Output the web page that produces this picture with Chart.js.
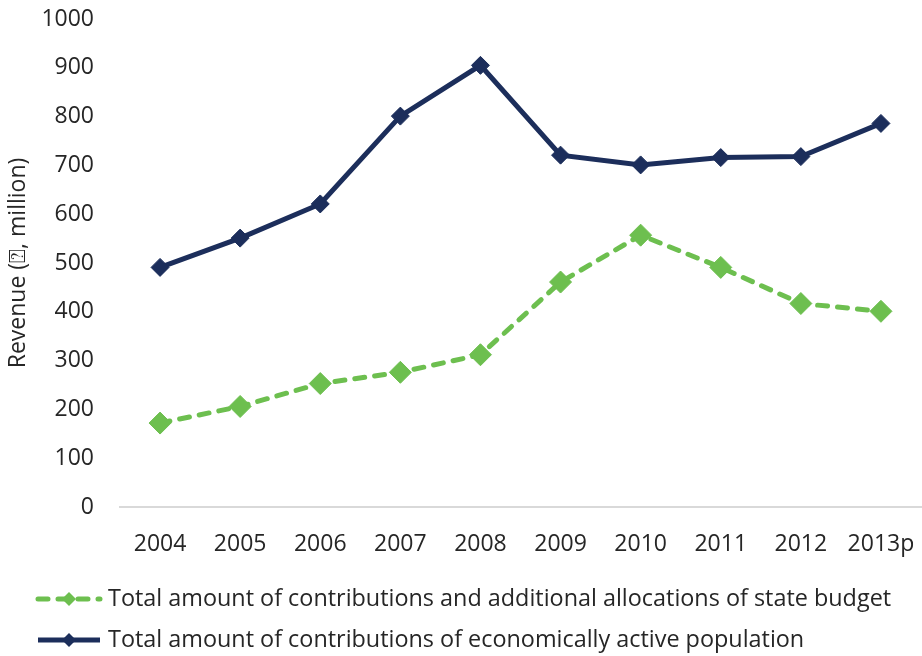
<!DOCTYPE html>
<html>
<head>
<meta charset="utf-8">
<script src="https://cdn.jsdelivr.net/npm/chart.js@4/dist/chart.umd.min.js"></script>
<style>
  html, body { margin: 0; padding: 0; background: #fff; }
  #wrap { width: 922px; height: 656px; }
</style>
</head>
<body>
<div id="wrap"><canvas id="myChart" width="922" height="656"></canvas></div>
<script>
const years = ['2004', '2005', '2006', '2007', '2008', '2009', '2010', '2011', '2012', '2013p'];
const stateBudget = [172, 206, 253, 276, 312, 461, 557, 491, 417, 401];
const activePop = [491, 551, 621, 801, 905, 721, 701, 716, 718, 786];
const yTicks = [0, 100, 200, 300, 400, 500, 600, 700, 800, 900, 1000];

const FONT = "'Open Sans', 'DejaVu Sans', sans-serif";
const TEXT_COLOR = '#262626';
const GREEN = '#6dbf4f';
const NAVY = '#1c2e5b';

// legend drawn by hand: line sample with diamond, text to the right
const bottomLegend = {
  id: 'bottomLegend',
  afterDraw(chart) {
    const ctx = chart.ctx;
    const top = chart.chartArea.bottom + 92;
    ctx.save();
    chart.data.datasets.forEach(function(ds, i) {
      const y = top + i * 41;
      const x0 = 36, x1 = 102, cx = 69;
      ctx.strokeStyle = ds.borderColor;
      ctx.lineWidth = ds.borderWidth;
      ctx.lineCap = ds.borderCapStyle || 'butt';
      ctx.setLineDash(ds.borderDash || []);
      ctx.beginPath();
      ctx.moveTo(x0 + 2, y);
      ctx.lineTo(x1 - 2, y);
      ctx.stroke();
      ctx.setLineDash([]);
      ctx.fillStyle = ds.pointBackgroundColor;
      ctx.beginPath();
      ctx.moveTo(cx, y - 7);
      ctx.lineTo(cx + 7, y);
      ctx.lineTo(cx, y + 7);
      ctx.lineTo(cx - 7, y);
      ctx.closePath();
      ctx.fill();
      ctx.fillStyle = TEXT_COLOR;
      ctx.font = '23.4px ' + FONT;
      ctx.textAlign = 'left';
      ctx.textBaseline = 'middle';
      ctx.fillText(ds.label, 108, y);
    });
    ctx.restore();
  }
};

const ctx = document.getElementById('myChart');
const chart = new Chart(ctx, {
  type: 'line',
  data: {
    labels: years,
    datasets: [
      {
        label: 'Total amount of contributions and additional allocations of state budget',
        data: stateBudget,
        borderColor: GREEN,
        backgroundColor: GREEN,
        pointBackgroundColor: GREEN,
        pointBorderColor: GREEN,
        borderWidth: 5,
        borderDash: [10, 10],
        borderCapStyle: 'round',
        pointStyle: 'rectRot',
        pointRadius: 11,
        pointBorderWidth: 1,
        tension: 0
      },
      {
        label: 'Total amount of contributions of economically active population',
        data: activePop,
        borderColor: NAVY,
        backgroundColor: NAVY,
        pointBackgroundColor: NAVY,
        pointBorderColor: NAVY,
        borderWidth: 5,
        pointStyle: 'rectRot',
        pointRadius: 9,
        pointBorderWidth: 1,
        tension: 0
      }
    ]
  },
  options: {
    responsive: false,
    maintainAspectRatio: false,
    animation: false,
    events: [],
    layout: {
      autoPadding: false,
      padding: { left: 0, right: 1, top: 19, bottom: 89 }
    },
    plugins: {
      legend: { display: false },
      tooltip: { enabled: false }
    },
    scales: {
      x: {
        offset: true,
        grid: { display: false, drawTicks: false },
        border: { display: true, color: '#d9d9d9', width: 2 },
        ticks: {
          color: TEXT_COLOR,
          font: { family: FONT, size: 23 },
          padding: 24,
          maxRotation: 0,
          autoSkip: false
        },
        afterFit: function(scale) {
          scale.height = 60;
          scale.paddingLeft = 0;
          scale.paddingRight = 0;
        }
      },
      y: {
        min: 0,
        max: 1000,
        afterBuildTicks: function(scale) {
          scale.ticks = yTicks.map(function(v) { return { value: v }; });
        },
        grid: { display: false, drawTicks: false },
        border: { display: false },
        ticks: {
          color: TEXT_COLOR,
          font: { family: FONT, size: 23 },
          padding: 26,
          callback: function(v) { return String(v); }
        },
        title: {
          display: true,
          text: 'Revenue (\u2370, million)',
          color: TEXT_COLOR,
          font: { family: FONT, size: 23 },
          padding: { top: 5, bottom: 0 }
        },
        afterFit: function(scale) {
          scale.width = 120;
          scale.paddingTop = 0;
          scale.paddingBottom = 0;
        }
      }
    }
  },
  plugins: [bottomLegend]
});
</script>
</body>
</html>
